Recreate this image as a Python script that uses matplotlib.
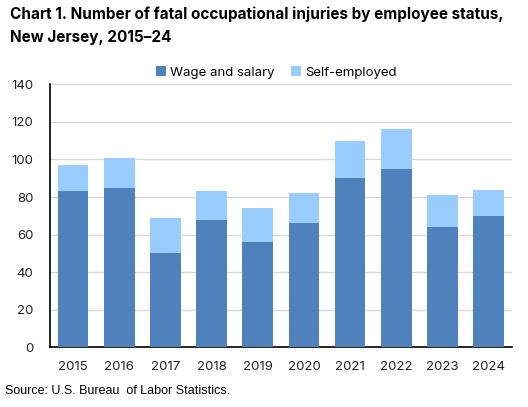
import matplotlib.pyplot as plt

years = ["2015", "2016", "2017", "2018", "2019", "2020", "2021", "2022", "2023", "2024"]
wage_salary = [83, 85, 50, 68, 56, 66, 90, 95, 64, 70]
self_employed = [14, 16, 19, 15, 18, 16, 20, 21, 17, 14]

plt.rcParams['font.family'] = ['Inter', 'DejaVu Sans']

fig = plt.figure(figsize=(5.28, 4.07), dpi=100)
ax = fig.add_axes([50 / 528, 1 - 347.3 / 407, 461.7 / 528, 263 / 407])

x = range(len(years))
ax.bar(x, wage_salary, width=0.665, color='#4f81bd', label='Wage and salary', zorder=3)
ax.bar(x, self_employed, width=0.665, bottom=wage_salary, color='#99ccff',
       label='Self-employed', zorder=3)

ax.set_ylim(0, 140)
ax.set_xlim(-0.5, len(years) - 0.5)
ax.set_yticks(range(0, 141, 20))
ax.set_xticks(list(x))
ax.set_xticklabels(years)
ax.tick_params(axis='both', length=0, labelsize=9.5, colors='#222222')
ax.tick_params(axis='x', pad=10)
ax.tick_params(axis='y', pad=12)
ax.grid(axis='y', color='#d9d9d9', linewidth=1, zorder=0)
for s in ['top', 'right']:
    ax.spines[s].set_visible(False)
ax.spines['left'].set_color('black')
ax.spines['bottom'].set_color('black')
ax.spines['left'].set_linewidth(1.2)
ax.spines['bottom'].set_linewidth(1.2)

ax.legend(loc='lower center', bbox_to_anchor=(0.49, 0.995), ncol=2, frameon=False,
          fontsize=9.5, handlelength=0.8, handleheight=0.8, handletextpad=0.3,
          columnspacing=1.2, borderaxespad=0.1)

fig.text(10 / 528, 1 - 7 / 407,
         "Chart 1. Number of fatal occupational injuries by employee status,\nNew Jersey, 2015\u201324",
         fontsize=11, fontweight='bold', va='top', ha='left', linespacing=1.6)
fig.text(5 / 528, 1 - 391 / 407, "Source: U.S. Bureau  of Labor Statistics.",
         fontsize=9, va='center', ha='left', family=['Liberation Sans', 'DejaVu Sans'])

fig.savefig('out.png', dpi=100)
